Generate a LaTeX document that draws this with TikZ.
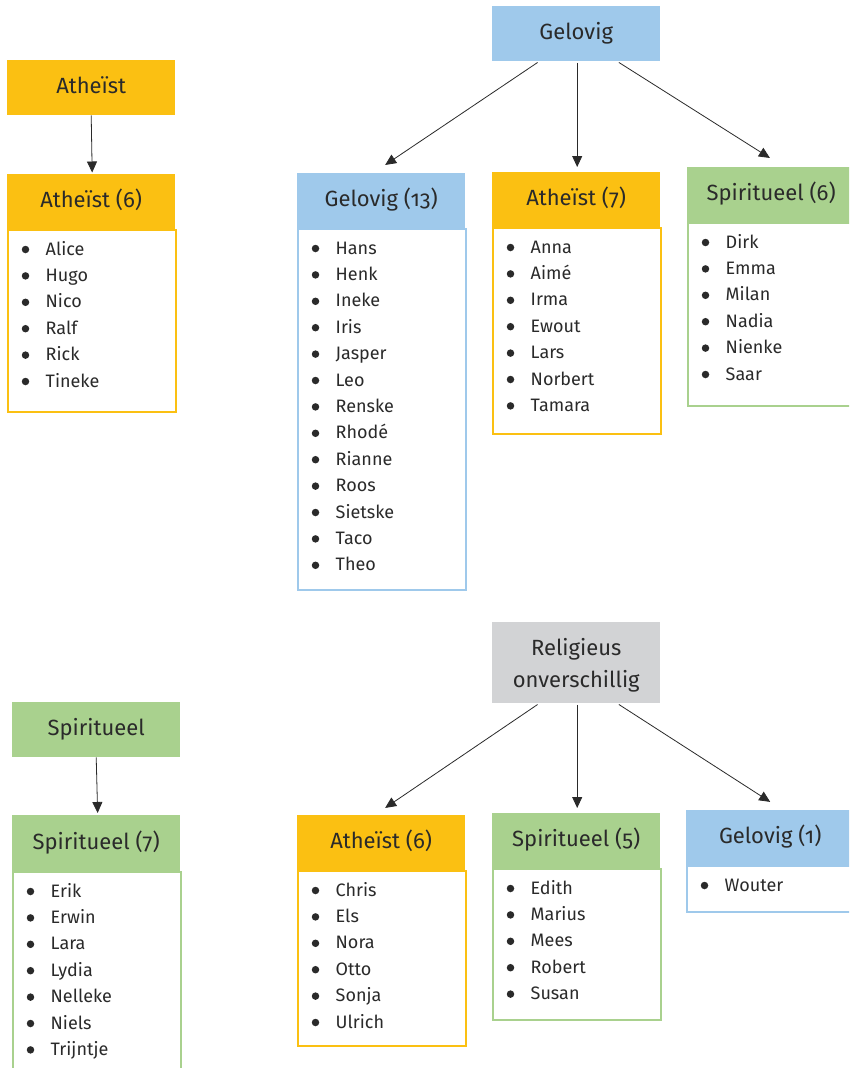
\documentclass[tikz,border=0pt]{standalone}
\usepackage{fontspec}
\setmainfont{Fira Sans}[Numbers=OldStyle]
\usetikzlibrary{arrows.meta}
\definecolor{gold}{HTML}{FBC012}
\definecolor{lblue}{HTML}{9FC9EB}
\definecolor{lgreen}{HTML}{A9D18E}
\definecolor{lgray}{HTML}{D2D3D5}
\definecolor{ink}{HTML}{2A2A2A}
\tikzset{
 hdr/.style={rectangle, anchor=north west, inner sep=0pt, minimum width=168pt, text=ink,
   font=\fontsize{22}{32}\selectfont, text height=14pt, text depth=2pt},
 lbox/.style={rectangle, anchor=north west, inner sep=0pt, minimum width=168pt, line width=1.6pt},
 itm/.style={anchor=base west, inner sep=0pt, text=ink, font=\fontsize{18}{22}\selectfont},
 bul/.style={circle, fill=ink, inner sep=0pt, minimum size=7.5pt},
 arr/.style={draw=ink, line width=0.8pt, -{Triangle[length=11pt,width=10pt]}},
}
% #1 name, #2 colour, #3 x, #4 header top, #5 header bottom, #6 list bottom, #7 title, #8 items
\newcommand{\grpbox}[8]{%
 \node[lbox, draw=#2, minimum height={#6-#5}] (#1l) at (#3,#5) {};
 \node[hdr, fill=#2, minimum height={#5-#4}] (#1h) at (#3,#4) {#7};
 \foreach \nm [count=\k] in {#8} {
   \node[bul] (#1b\k) at ({#3+18.5},{#5+26+(\k-1)*26.4-5.5}) {};
   \node[itm] (#1i\k) at ({#3+38.5},{#5+26+(\k-1)*26.4}) {\nm};
 }%
}
\begin{document}
\begin{tikzpicture}[x=1pt,y=-1pt]
\clip (0,0) rectangle (849,1068);
\fill[white] (0,0) rectangle (849,1068);
% top-left
\node[hdr, fill=gold, minimum height=55pt] (ath) at (7,60) {Atheïst};
\grpbox{a6}{gold}{7}{174}{229}{411}{Atheïst (6)}{Alice,Hugo,Nico,Ralf,Rick,Tineke}
% top-right
\node[hdr, fill=lblue, minimum height=55pt] (gel) at (492,6) {Gelovig};
\grpbox{g13}{lblue}{297}{173}{228}{589}{Gelovig (13)}{Hans,Henk,Ineke,Iris,Jasper,Leo,Renske,Rhodé,Rianne,Roos,Sietske,Taco,Theo}
\grpbox{a7}{gold}{492}{172}{227}{433}{Atheïst (7)}{Anna,Aimé,Irma,Ewout,Lars,Norbert,Tamara}
\grpbox{s6}{lgreen}{687}{167}{222}{405}{Spiritueel (6)}{Dirk,Emma,Milan,Nadia,Nienke,Saar}
% bottom-left
\node[hdr, fill=lgreen, minimum height=55pt] (spi) at (12,702) {Spiritueel};
\grpbox{s7}{lgreen}{12}{815}{871}{1090}{Spiritueel (7)}{Erik,Erwin,Lara,Lydia,Nelleke,Niels,Trijntje}
% bottom-right
\node[hdr, fill=lgray, minimum height=81pt, align=center, text height=55pt, text depth=6pt] (rel) at (492,622) {Religieus\\onverschillig};
\grpbox{ab6}{gold}{297}{815}{870}{1045}{Atheïst (6)}{Chris,Els,Nora,Otto,Sonja,Ulrich}
\grpbox{s5}{lgreen}{492}{813}{868}{1019}{Spiritueel (5)}{Edith,Marius,Mees,Robert,Susan}
\grpbox{g1}{lblue}{686}{810}{865}{911}{Gelovig (1)}{Wouter}
% arrows
\draw[arr, shorten >=1.5pt] (ath.south) -- ([xshift=1pt]a6h.north);
\draw[arr, shorten >=2pt] (spi.south) -- ([xshift=1.5pt]s7h.north);
\draw[arr, shorten <=2pt, shorten >=14.4pt] ([xshift=-37pt]gel.south) -- ([xshift=-8pt]g13h.north);
\draw[arr, shorten <=1.5pt, shorten >=5pt] ([xshift=1pt]gel.south) -- ([xshift=1pt]a7h.north);
\draw[arr, shorten <=2pt, shorten >=16.9pt] ([xshift=41pt]gel.south) -- ([xshift=13pt]s6h.north);
\draw[arr, shorten <=2pt, shorten >=12.6pt] ([xshift=-37pt]rel.south) -- ([xshift=-6.5pt]ab6h.north);
\draw[arr, shorten <=1.5pt, shorten >=5pt] ([xshift=1pt]rel.south) -- ([xshift=1pt]s5h.north);
\draw[arr, shorten <=2pt, shorten >=15pt] ([xshift=41pt]rel.south) -- ([xshift=12.6pt]g1h.north);
\end{tikzpicture}
\end{document}
